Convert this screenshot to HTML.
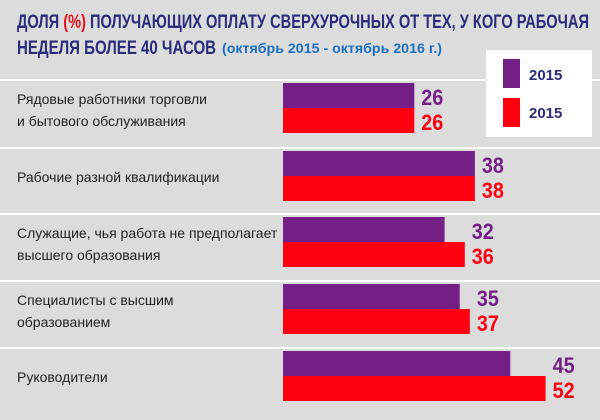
<!DOCTYPE html>
<html><head><meta charset="utf-8"><style>
html,body{margin:0;padding:0;background:#dcdcdc;}
svg{display:block;font-family:"Liberation Sans","DejaVu Sans",sans-serif;}
</style></head><body>
<svg id="chart" width="600" height="420" viewBox="0 0 600 420">
<rect width="600" height="420" fill="#dcdcdc"/>
<text x="17" y="28" font-size="19" font-weight="bold" fill="#2b2b7c" textLength="572" lengthAdjust="spacingAndGlyphs">ДОЛЯ <tspan fill="#e8101a">(%)</tspan> ПОЛУЧАЮЩИХ ОПЛАТУ СВЕРХУРОЧНЫХ ОТ ТЕХ, У КОГО РАБОЧАЯ</text>
<text x="17" y="54" font-size="19" font-weight="bold" fill="#2b2b7c" textLength="199" lengthAdjust="spacingAndGlyphs">НЕДЕЛЯ БОЛЕЕ 40 ЧАСОВ</text>
<text x="222" y="53" font-size="14" font-weight="bold" fill="#1a6fc0" textLength="220" lengthAdjust="spacingAndGlyphs">(октябрь 2015 - октябрь 2016 г.)</text>
<g id="rows"></g>
<g>
<rect x="486" y="50" width="106" height="87" fill="#ffffff"/>
<rect x="503" y="59" width="17" height="29" fill="#741f86"/>
<text x="529" y="80" font-size="15" font-weight="bold" fill="#2b2b7c">2015</text>
<rect x="503" y="98" width="17" height="29" fill="#ff0010"/>
<text x="529" y="118" font-size="15" font-weight="bold" fill="#2b2b7c">2015</text>
</g>
<g id="labels"></g>
</svg>
<script>
const categories = [
  ["Рядовые работники торговли","и бытового обслуживания"],
  ["Рабочие разной квалификации"],
  ["Служащие, чья работа не предполагает","высшего образования"],
  ["Специалисты с высшим","образованием"],
  ["Руководители"]
];
const seriesPurple = [26, 38, 32, 35, 45];
const seriesRed = [26, 38, 36, 37, 52];

const NS = "http://www.w3.org/2000/svg";
const g = document.getElementById("rows");
const gl = document.getElementById("labels");
const x0 = 283, scale = 5.05;
const rowTops = [81, 149, 215, 282, 349];
function xs(v){ return x0 + v*scale; }
function mk(parent, tag, attrs){ const e=document.createElementNS(NS,tag); for(const k in attrs) e.setAttribute(k, attrs[k]); parent.appendChild(e); return e; }
categories.forEach((cat, i) => {
  const top = rowTops[i];
  const sep = mk(g, "rect", {x:0, y:top-2, width:600, height:2, fill:"#ffffff"});
  
  
  const b1 = mk(g, "rect", {x:x0, y:top+2, width:xs(seriesPurple[i])-x0, height:25, fill:"#741f86"});
  
  
  const b2 = mk(g, "rect", {x:x0, y:top+27, width:xs(seriesRed[i])-x0, height:25, fill:"#ff0010"});
  
  
  const lx = Math.min(Math.max(xs(seriesPurple[i]), xs(seriesRed[i])) + 7, 564);
  const v1 = mk(gl, "text", {x:lx, y:top+24, "font-size":22, "font-weight":"bold", fill:"#741f86", textLength:22, lengthAdjust:"spacingAndGlyphs"});
  v1.textContent = seriesPurple[i];
  
  
  const v2 = mk(gl, "text", {x:lx, y:top+49, "font-size":22, "font-weight":"bold", fill:"#ff0010", textLength:22, lengthAdjust:"spacingAndGlyphs"});
  v2.textContent = seriesRed[i];
  
  
  const n = cat.length;
  cat.forEach((line, j) => {
    const y = n === 1 ? top+33 : top+23+j*22;
    const t = mk(g, "text", {x:17, y:y, "font-size":14, fill:"#222222"});
    t.textContent = line;
    
    
  });
});
</script>
</body></html>
